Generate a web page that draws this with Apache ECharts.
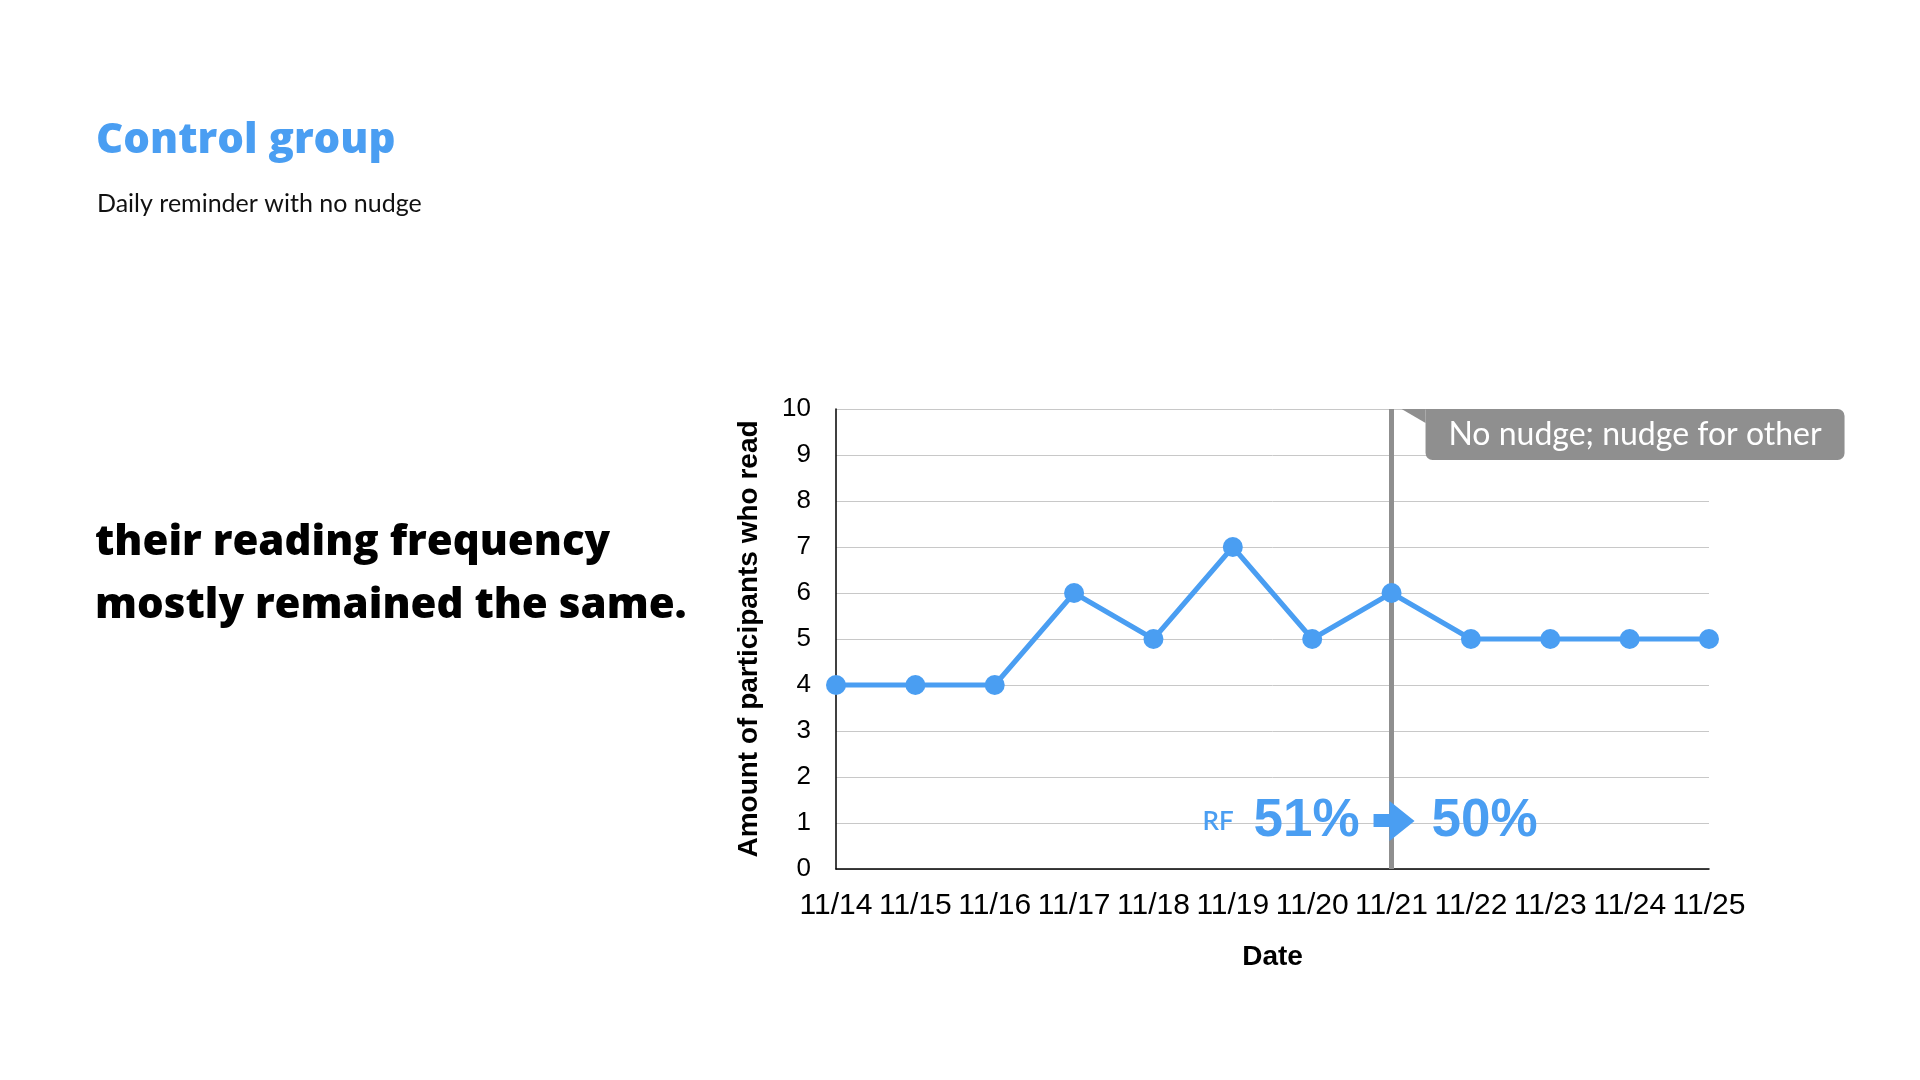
<!DOCTYPE html>
<html>
<head>
<meta charset="utf-8">
<script src="https://cdn.jsdelivr.net/npm/echarts@6/dist/echarts.min.js"></script>
<style>
html,body{margin:0;padding:0;background:#fff;}
#chart{width:1920px;height:1080px;}
</style>
</head>
<body>
<div id="chart"></div>
<script>
var categories = ['11/14','11/15','11/16','11/17','11/18','11/19','11/20','11/21','11/22','11/23','11/24','11/25'];
var readers = [4,4,4,6,5,7,5,6,5,5,5,5];
var yTicks = [0,1,2,3,4,5,6,7,8,9,10];
var markerDate = '11/21';
var titleText = 'Control group';
var subtitleText = 'Daily reminder with no nudge';
var bodyLines = ['their reading frequency', 'mostly remained the same.'];
var calloutText = 'No nudge; nudge for other';
var rfBefore = '51%';
var rfAfter = '50%';

var BLUE = '#4a9ef2';
var GRAY = '#8f8f8f';
var geo = 'Lato, "Open Sans", sans-serif';
var wide = '"Open Sans", Lato, sans-serif';
var helv = '"Liberation Sans", Arial, sans-serif';

var chart = echarts.init(document.getElementById('chart'), null, {renderer:'canvas'});

var option = {
  animation: false,
  backgroundColor: '#ffffff',
  grid: {left: 836, top: 409, width: 873, height: 460},
  xAxis: {
    type: 'category',
    data: categories,
    boundaryGap: false,
    axisLine: {show: true, lineStyle: {color: '#000', width: 1.5}},
    axisTick: {show: false},
    axisLabel: {interval: 0, hideOverlap: false, color: '#000', fontSize: 30, fontFamily: helv, margin: 22},
    splitLine: {show: false},
    name: 'Date',
    nameLocation: 'middle',
    nameGap: 74,
    nameTextStyle: {color: '#000', fontSize: 28, fontWeight: 'bold', fontFamily: helv}
  },
  yAxis: {
    type: 'value',
    min: yTicks[0],
    max: yTicks[yTicks.length - 1],
    interval: 1,
    axisLine: {show: true, lineStyle: {color: '#000', width: 1.5}},
    axisTick: {show: false},
    axisLabel: {color: '#000', fontSize: 26, fontFamily: helv, margin: 25},
    splitLine: {show: true, lineStyle: {color: '#c8c8c8', width: 1}},
    name: 'Amount of participants who read',
    nameLocation: 'middle',
    nameRotate: 90,
    nameGap: 73,
    nameTextStyle: {color: '#000', fontSize: 28, fontWeight: 'bold', fontFamily: helv}
  },
  series: [{
    type: 'line',
    data: readers,
    color: BLUE,
    lineStyle: {color: BLUE, width: 5},
    itemStyle: {color: BLUE},
    symbol: 'circle',
    symbolSize: 20,
    z: 3,
    markLine: {
      silent: true,
      symbol: ['none','none'],
      label: {show: false},
      lineStyle: {color: GRAY, width: 5, type: 'solid'},
      z: 2,
      data: [{xAxis: markerDate}]
    }
  }]
};
chart.setOption(option);

var lineX = chart.convertToPixel({xAxisIndex: 0}, markerDate);
var topY = chart.convertToPixel({yAxisIndex: 0}, 10);
var oneY = chart.convertToPixel({yAxisIndex: 0}, 1);
var rfY = oneY - 2;

chart.setOption({
  graphic: [
    {type:'text', left: 96, top: 120, style:{text: titleText, fill: BLUE, font: '800 42px ' + wide}},
    {type:'text', left: 97, top: 191, style:{text: subtitleText, fill: '#111', font: '25px ' + geo}},
    {type:'text', left: 95, top: 512, style:{text: bodyLines.join('\n'), fill: '#000', font: '800 42px ' + wide, lineHeight: 63}},
    {type:'polygon', shape:{points:[[lineX+10, topY],[lineX+34, topY],[lineX+34, topY+14]]}, style:{fill: GRAY}, z: 10},
    {type:'rect', shape:{x: lineX+34, y: topY, width: 419, height: 51, r:[0,7,7,7]}, style:{fill: GRAY}, z: 10},
    {type:'text', x: lineX+34+419/2, y: topY+26, style:{text: calloutText, fill:'#fff', font: '32px ' + geo, align:'center', verticalAlign:'middle'}, z: 11},
    {type:'text', x: lineX-189, y: rfY+1, style:{text:'RF', fill: BLUE, font: '600 26px ' + geo, align:'left', verticalAlign:'middle'}, z: 11},
    {type:'text', x: lineX-138, y: rfY, style:{text: rfBefore, fill: BLUE, font: 'bold 53px ' + helv, align:'left', verticalAlign:'middle'}, z: 11},
    {type:'polygon', shape:{points:[[lineX-18, rfY-7],[lineX-2, rfY-7],[lineX-2, rfY-20],[lineX+23, rfY],[lineX-2, rfY+20],[lineX-2, rfY+6],[lineX-18, rfY+6]]}, style:{fill: BLUE}, z: 11},
    {type:'text', x: lineX+40, y: rfY, style:{text: rfAfter, fill: BLUE, font: 'bold 53px ' + helv, align:'left', verticalAlign:'middle'}, z: 11}
  ]
});
</script>
</body>
</html>
